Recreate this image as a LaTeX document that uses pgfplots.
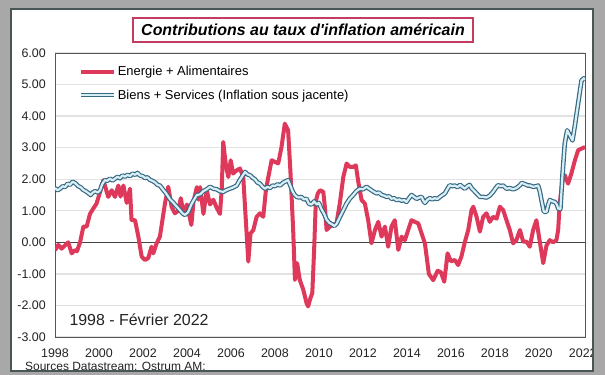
\documentclass[border=0pt]{standalone}
\usepackage{fontspec}
\setmainfont{Liberation Sans}
\usepackage{pgfplots}
\pgfplotsset{compat=1.18}
\usepackage{pgfplotstable}

\definecolor{redline}{RGB}{222,56,90}
\definecolor{blueout}{RGB}{55,105,132}
\definecolor{bluein}{RGB}{215,238,244}
\definecolor{bggray}{RGB}{168,168,168}
\definecolor{panelborder}{RGB}{72,86,86}
\definecolor{gridgray}{RGB}{226,226,226}
\definecolor{zerogray}{RGB}{70,70,70}
\definecolor{titleborder}{RGB}{196,60,96}

\pgfplotstableread{
x y
1998.00 -0.25
1998.15 -0.08
1998.30 -0.20
1998.45 -0.10
1998.60 0.00
1998.76 -0.35
1998.90 -0.25
1999.00 -0.28
1999.14 0.00
1999.29 0.50
1999.44 0.50
1999.59 0.90
1999.74 1.07
1999.89 1.23
2000.05 1.60
2000.20 1.97
2000.27 1.80
2000.42 1.44
2000.58 1.65
2000.73 1.44
2000.88 1.80
2000.98 1.45
2001.11 1.80
2001.26 1.25
2001.41 1.70
2001.48 0.70
2001.64 0.70
2001.79 0.18
2001.94 -0.45
2002.09 -0.56
2002.24 -0.50
2002.39 -0.14
2002.47 -0.35
2002.62 -0.03
2002.77 0.18
2003.00 1.23
2003.15 1.76
2003.30 1.13
2003.45 0.92
2003.60 1.00
2003.72 1.40
2003.85 0.90
2004.00 1.20
2004.20 0.55
2004.30 1.30
2004.45 1.75
2004.52 1.35
2004.60 1.75
2004.75 0.90
2004.90 1.65
2005.05 1.20
2005.20 1.35
2005.35 1.10
2005.50 0.90
2005.58 1.65
2005.65 3.18
2005.76 2.50
2005.88 2.07
2005.99 2.60
2006.10 2.18
2006.26 2.28
2006.41 2.34
2006.56 2.07
2006.64 1.13
2006.79 -0.61
2006.89 0.28
2007.02 0.39
2007.17 0.81
2007.32 0.92
2007.47 0.81
2007.59 1.65
2007.70 2.07
2007.85 2.60
2008.00 2.55
2008.15 2.50
2008.30 3.02
2008.45 3.76
2008.60 3.55
2008.71 2.18
2008.83 0.39
2008.91 -1.19
2009.01 -0.66
2009.13 -1.19
2009.29 -1.50
2009.44 -1.93
2009.51 -2.03
2009.60 -1.80
2009.70 -1.60
2009.78 -0.30
2009.86 1.30
2009.95 1.55
2010.05 1.65
2010.20 1.60
2010.27 1.13
2010.35 0.39
2010.50 0.50
2010.65 0.55
2010.80 0.60
2010.95 1.23
2011.11 2.07
2011.26 2.50
2011.41 2.39
2011.56 2.39
2011.68 2.44
2011.79 1.92
2011.94 1.34
2012.09 1.23
2012.24 0.70
2012.39 -0.03
2012.55 0.39
2012.70 0.65
2012.85 0.18
2013.00 0.50
2013.15 -0.14
2013.30 0.50
2013.45 0.70
2013.61 -0.24
2013.76 0.18
2013.91 0.07
2014.06 0.39
2014.21 0.70
2014.36 0.65
2014.52 0.60
2014.67 0.28
2014.82 -0.03
2015.00 -1.00
2015.20 -1.20
2015.40 -0.90
2015.55 -0.95
2015.70 -1.25
2015.85 -0.35
2016.00 -0.60
2016.18 -0.56
2016.33 -0.72
2016.48 -0.45
2016.64 0.02
2016.79 0.39
2016.94 1.02
2017.02 1.13
2017.17 0.81
2017.32 0.34
2017.47 0.81
2017.62 0.92
2017.77 0.65
2017.92 0.81
2018.08 0.75
2018.23 1.13
2018.38 1.02
2018.53 0.70
2018.68 0.39
2018.83 -0.03
2018.98 0.07
2019.14 0.39
2019.29 0.02
2019.44 0.02
2019.59 -0.14
2019.74 0.39
2019.89 0.70
2020.05 0.00
2020.20 -0.66
2020.35 -0.10
2020.50 0.07
2020.65 0.00
2020.80 0.07
2020.88 0.39
2020.95 1.23
2021.08 1.97
2021.18 2.13
2021.33 1.86
2021.48 2.18
2021.64 2.60
2021.79 2.92
2021.94 2.97
2022.10 3.02
}\redtable

\pgfplotstableread{
x y
1998.00 1.72
1998.12 1.65
1998.23 1.70
1998.35 1.78
1998.45 1.75
1998.58 1.86
1998.68 1.82
1998.80 1.92
1998.91 1.88
1999.06 1.78
1999.18 1.74
1999.29 1.66
1999.40 1.62
1999.52 1.56
1999.62 1.50
1999.72 1.58
1999.82 1.62
1999.95 1.58
2000.05 1.65
2000.15 1.85
2000.27 1.97
2000.38 1.95
2000.50 2.02
2000.62 1.96
2000.73 2.02
2000.85 2.08
2000.95 2.03
2001.07 2.12
2001.18 2.08
2001.30 2.14
2001.41 2.10
2001.53 2.18
2001.64 2.14
2001.75 2.20
2001.86 2.12
2001.98 2.10
2002.09 2.04
2002.20 2.06
2002.32 1.98
2002.43 1.95
2002.55 1.90
2002.66 1.82
2002.77 1.80
2002.90 1.68
2003.00 1.60
2003.12 1.48
2003.23 1.36
2003.35 1.28
2003.45 1.20
2003.58 1.10
2003.68 1.02
2003.80 0.92
2003.91 0.87
2004.05 0.95
2004.20 1.20
2004.32 1.35
2004.45 1.50
2004.60 1.52
2004.74 1.62
2004.90 1.68
2005.05 1.76
2005.20 1.70
2005.35 1.68
2005.50 1.62
2005.65 1.60
2005.80 1.66
2005.95 1.70
2006.10 1.74
2006.26 1.80
2006.38 1.95
2006.49 2.07
2006.64 2.23
2006.76 2.15
2006.86 2.13
2006.98 2.05
2007.09 2.00
2007.20 1.90
2007.32 1.86
2007.44 1.76
2007.55 1.70
2007.66 1.76
2007.77 1.72
2007.90 1.80
2008.00 1.78
2008.12 1.84
2008.23 1.80
2008.35 1.88
2008.45 1.92
2008.60 1.97
2008.70 1.80
2008.80 1.62
2008.90 1.50
2009.00 1.44
2009.10 1.42
2009.20 1.44
2009.32 1.36
2009.44 1.38
2009.55 1.22
2009.67 1.20
2009.78 1.30
2009.90 1.20
2010.00 1.25
2010.12 1.05
2010.24 0.90
2010.35 0.72
2010.47 0.62
2010.58 0.58
2010.70 0.52
2010.80 0.58
2010.95 0.80
2011.11 1.02
2011.25 1.22
2011.40 1.38
2011.56 1.50
2011.70 1.62
2011.86 1.70
2012.00 1.68
2012.17 1.76
2012.28 1.70
2012.39 1.65
2012.50 1.60
2012.62 1.55
2012.73 1.58
2012.85 1.50
2012.97 1.48
2013.08 1.44
2013.20 1.46
2013.30 1.38
2013.42 1.40
2013.53 1.34
2013.65 1.36
2013.76 1.32
2013.88 1.34
2013.98 1.28
2014.10 1.40
2014.21 1.50
2014.33 1.44
2014.44 1.38
2014.56 1.42
2014.67 1.44
2014.75 1.32
2014.82 1.25
2014.95 1.36
2015.05 1.40
2015.16 1.36
2015.27 1.40
2015.38 1.37
2015.50 1.44
2015.62 1.50
2015.73 1.55
2015.85 1.70
2015.95 1.81
2016.06 1.78
2016.18 1.80
2016.30 1.75
2016.42 1.82
2016.54 1.75
2016.64 1.70
2016.75 1.78
2016.85 1.82
2016.96 1.70
2017.02 1.66
2017.17 1.55
2017.32 1.44
2017.47 1.44
2017.62 1.42
2017.77 1.48
2017.92 1.60
2018.02 1.70
2018.14 1.81
2018.27 1.78
2018.38 1.80
2018.53 1.70
2018.68 1.72
2018.83 1.68
2018.98 1.72
2019.14 1.81
2019.22 1.88
2019.35 1.85
2019.50 1.80
2019.60 1.80
2019.74 1.76
2019.89 1.78
2019.97 1.80
2020.05 1.60
2020.12 1.34
2020.23 0.97
2020.35 0.97
2020.43 1.20
2020.50 1.34
2020.62 1.30
2020.73 1.28
2020.82 1.20
2020.88 1.07
2020.98 1.05
2021.08 2.18
2021.18 3.13
2021.29 3.55
2021.41 3.39
2021.53 3.23
2021.64 3.70
2021.74 4.18
2021.83 4.60
2021.94 5.13
2022.05 5.20
2022.10 5.15
}\bluetable

\begin{document}
\begin{tikzpicture}
\fill[bggray] (0,0) rectangle (605bp,375bp);
\fill[white] (11bp,4bp) rectangle (593bp,366bp);
\begin{axis}[
  at={(55bp,38bp)}, anchor=south west,
  width=530bp, height=284bp, scale only axis,
  xmin=1998, xmax=2022.1, ymin=-3, ymax=6,
  xtick={1998,2000,...,2022},
  ytick={-3,-2,...,6},
  major tick length=0pt,
  ymajorgrids,
  grid style={gridgray, line width=1.3bp},
  axis line style={draw={rgb,255:red,85;green,85;blue,85}, line width=0.8bp},
  extra y ticks={0}, extra y tick labels={},
  extra y tick style={major grid style={zerogray, line width=0.8bp}},
  tick label style={font=\fontsize{12.5}{14}\selectfont, text={rgb,255:red,35;green,35;blue,35}},
  /pgf/number format/assume math mode=true,
  xticklabel style={/pgf/number format/.cd, fixed, precision=0, 1000 sep={}, /tikz/.cd, inner sep=0pt, anchor=north, yshift=-11.5bp},
  yticklabel style={/pgf/number format/.cd, fixed, fixed zerofill, precision=2, /tikz/.cd, inner sep=0pt, anchor=east, xshift=-9bp},
  legend style={draw=none, fill=none, at={(0.045,0.958)}, anchor=north west,
    font=\fontsize{13}{15}\selectfont, row sep=10bp, inner sep=0pt,
    nodes={inner sep=1.2bp}},
  legend cell align=left,
  legend image code/.code={\draw[#1] (0bp,0bp) -- (33bp,0bp);},
]
\addplot[redline, line width=4bp, line join=round] table {\redtable};
\addlegendentry{Energie + Alimentaires}
\addplot[draw=blueout, line width=1.2bp, double=bluein, double distance=2.2bp, line join=round] table {\bluetable};
\addlegendentry{Biens + Services (Inflation sous jacente)}
\node[anchor=west, inner sep=0pt, font=\fontsize{16}{18}\selectfont, text={rgb,255:red,35;green,35;blue,35}] at (rel axis cs:0.027,0.06) {1998 - Février 2022};
\end{axis}
\node[draw=titleborder, line width=2bp, fill=white, inner xsep=4bp, minimum width=340bp, minimum height=24bp,
  font=\fontsize{16}{18}\selectfont\bfseries\itshape] at (303bp,345bp) {Contributions au taux d\textquotesingle inflation américain};
\node[anchor=base west, inner sep=0pt, font=\fontsize{12}{14}\selectfont, text={rgb,255:red,35;green,35;blue,35}] at (25bp,4.7bp) {Sources Datastream: Ostrum AM:};
\fill[bggray, even odd rule] (0,0) rectangle (605bp,375bp) (11bp,4bp) rectangle (593bp,366bp);
\draw[panelborder, line width=2bp] (11bp,4bp) rectangle (593bp,366bp);
\end{tikzpicture}
\end{document}
